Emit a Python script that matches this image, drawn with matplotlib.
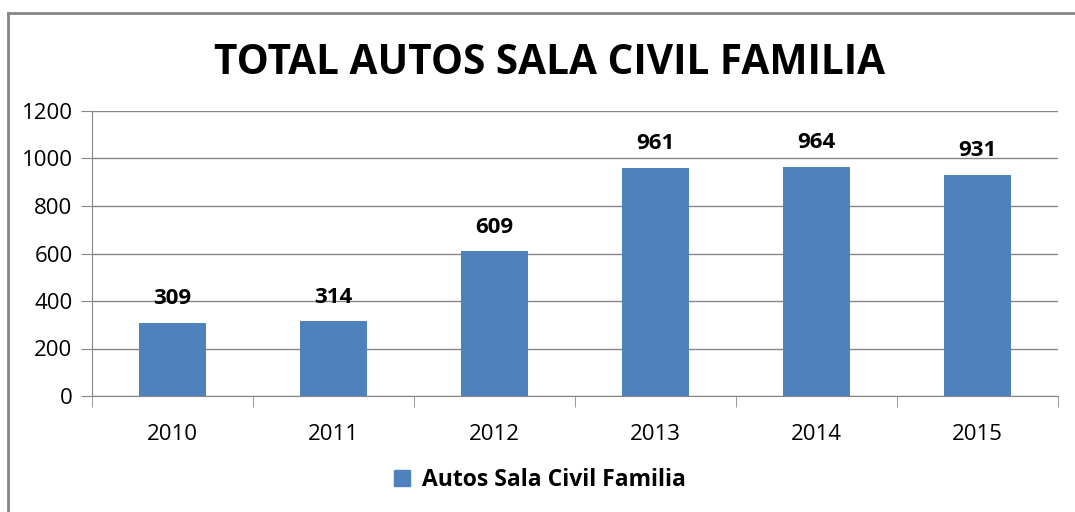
import matplotlib.pyplot as plt
import numpy as np
from matplotlib.lines import Line2D

years = ['2010', '2011', '2012', '2013', '2014', '2015']
autos = [309, 314, 609, 961, 964, 931]
serie = 'Autos Sala Civil Familia'

plt.rcParams['font.family'] = ['Open Sans', 'DejaVu Sans']

fig = plt.figure(figsize=(10.75, 5.12), dpi=100)
ax = fig.add_axes([92 / 1075, 1 - 396 / 512, (1058 - 92) / 1075, (396 - 111) / 512])

gris = '#868686'
azul = '#4F81BD'

x = np.arange(len(years))
bars = ax.bar(x, autos, width=0.41, color=azul, zorder=3, label=serie)

for xi, v in zip(x, autos):
    ax.text(xi, v + 58, str(v), ha='center', va='bottom', fontsize=16, fontweight='bold')

ax.set_xlim(-0.5, len(years) - 0.5)
ax.set_ylim(0, 1200)
ax.set_yticks(range(0, 1201, 200))
ax.set_xticks(x)
ax.set_xticklabels(years)
ax.set_xticks(np.arange(-0.5, len(years), 1), minor=True)
ax.tick_params(axis='x', which='major', length=0, labelsize=16, pad=20)
ax.tick_params(axis='x', which='minor', length=8, color=gris, direction='out')
ax.tick_params(axis='y', length=8, color=gris, labelsize=16, pad=6)
ax.yaxis.grid(True, color=gris, linewidth=1, zorder=0)
for s in ['top', 'right']:
    ax.spines[s].set_visible(False)
for s in ['left', 'bottom']:
    ax.spines[s].set_color(gris)

fig.text(550 / 1075, 1 - 63 / 512, 'TOTAL AUTOS SALA CIVIL FAMILIA', ha='center', va='center',
         fontsize=29.2, fontweight='bold')

fig.legend(handles=[plt.Rectangle((0, 0), 1, 1, color=azul)], labels=[serie],
           loc='center', bbox_to_anchor=(540 / 1075, 1 - 480 / 512), frameon=False,
           prop={'size': 16.5, 'weight': 'bold'},
           handlelength=0.7, handleheight=0.7, handletextpad=0.5)

# marco del grafico
fig.add_artist(Line2D([8 / 1075, 8 / 1075], [0, 1 - 13 / 512], color=gris, linewidth=2,
                      transform=fig.transFigure))
fig.add_artist(Line2D([8 / 1075, 1], [1 - 13 / 512, 1 - 13 / 512], color=gris, linewidth=2,
                      transform=fig.transFigure))

fig.savefig('out.png', dpi=100)
